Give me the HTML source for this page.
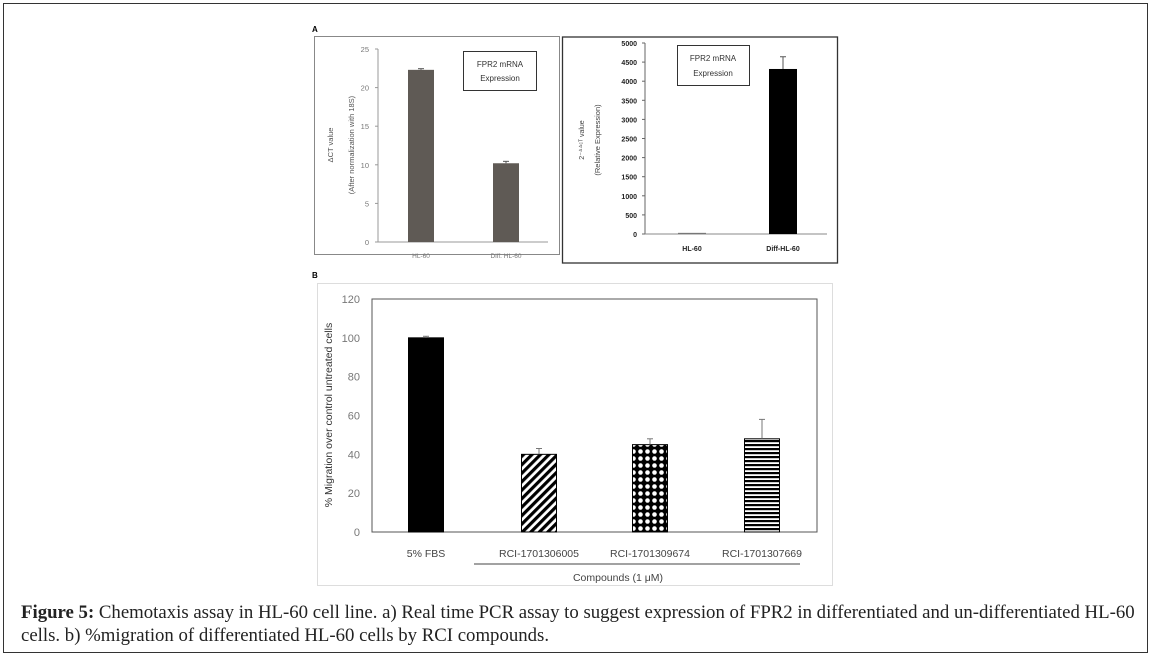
<!DOCTYPE html>
<html><head><meta charset="utf-8"><style>
html,body{margin:0;padding:0;background:#fff;}
body{width:1154px;height:662px;position:relative;overflow:hidden;font-family:"Liberation Sans",sans-serif;}
#frame{position:absolute;left:3px;top:3px;width:1145px;height:650px;border:1px solid #333;box-sizing:border-box;}
#cap{position:absolute;left:21px;top:601px;font-family:"Liberation Serif",serif;font-size:18.8px;line-height:23px;color:#222;width:1118px;}
</style></head><body>
<div id="frame"></div>
<svg width="1154" height="600" style="position:absolute;left:0;top:0" font-family="Liberation Sans, sans-serif">
<defs>
<pattern id="diag" width="6" height="6" patternUnits="userSpaceOnUse" patternTransform="rotate(45)"><rect width="6" height="6" fill="#fff"/><rect width="3.2" height="6" fill="#000"/></pattern>
<pattern id="dots" width="7" height="7" patternUnits="userSpaceOnUse"><rect width="7" height="7" fill="#000"/><circle cx="3.5" cy="3.5" r="2.3" fill="#fff"/></pattern>
<pattern id="hstripe" width="6" height="4" patternUnits="userSpaceOnUse"><rect width="6" height="4" fill="#fff"/><rect width="6" height="2.2" fill="#000"/></pattern>
</defs>
<text x="312" y="32" font-size="8" font-weight="bold">A</text>
<rect x="314.5" y="36.5" width="245" height="218" fill="none" stroke="#888"/>
<rect x="562.5" y="37" width="275" height="226" fill="none" stroke="#333" stroke-width="1.3"/>
<text x="312" y="278" font-size="8" font-weight="bold">B</text>
<rect x="317.5" y="283.5" width="515" height="302" fill="none" stroke="#ddd"/>
<g id="c1"></g>
<g id="c2"></g>
<g id="c3"></g>
</svg>
<div id="cap"><b>Figure 5:</b> Chemotaxis assay in HL-60 cell line. a) Real time PCR assay to suggest expression of FPR2 in differentiated and un-differentiated HL-60 cells. b) %migration of differentiated HL-60 cells by RCI compounds.</div>
<script>
const NS="http://www.w3.org/2000/svg";
const c1Cats=["HL-60","Diff. HL-60"];
const c1Vals=[22.3,10.2];
const c1Errs=[0.15,0.25];
const c1Ticks=[0,5,10,15,20,25];
const c2Cats=["HL-60","Diff-HL-60"];
const c2Vals=[30,4320];
const c2Errs=[0,320];
const c2Ticks=[0,500,1000,1500,2000,2500,3000,3500,4000,4500,5000];
const c3Cats=["5% FBS","RCI-1701306005","RCI-1701309674","RCI-1701307669"];
const c3Vals=[100,40,45,48];
const c3Errs=[0.8,3,3,10];
const c3Ticks=[0,20,40,60,80,100,120];
function el(p,t,a,txt){const e=document.createElementNS(NS,t);for(const k in a)e.setAttribute(k,a[k]);if(txt!==undefined)e.textContent=txt;p.appendChild(e);return e;}
// chart 1
(function(){
 const g=document.getElementById('c1');
 const y0=242,y1=49,max=25,ax=378;
 const ys=v=>y0-(v/max)*(y0-y1);
 let e=el(g,'line',{x1:ax,y1:y1,x2:ax,y2:y0,stroke:'#999'});
 
 e=el(g,'line',{x1:ax,y1:y0,x2:548,y2:y0,stroke:'#999'});
 
 c1Ticks.forEach(t=>{e=el(g,'text',{x:369,y:ys(t)+3,'font-size':7.5,'text-anchor':'end',fill:'#777'},t);
  
  el(g,'line',{x1:ax-3,y1:ys(t),x2:ax,y2:ys(t),stroke:'#999'});});
 const cx=[421,506];
 c1Cats.forEach((c,i)=>{
  const top=ys(c1Vals[i]);
  e=el(g,'rect',{x:cx[i]-13,y:top,width:26,height:y0-top,fill:'#5f5a55'});
  
  const et=ys(c1Vals[i]+c1Errs[i]);
  el(g,'line',{x1:cx[i],y1:top,x2:cx[i],y2:et,stroke:'#555'});
  el(g,'line',{x1:cx[i]-3,y1:et,x2:cx[i]+3,y2:et,stroke:'#555'});
  e=el(g,'text',{x:cx[i],y:258,'font-size':6.5,'text-anchor':'middle',fill:'#777'},c);
  
 });
 e=el(g,'text',{transform:'translate(333,145) rotate(-90)','font-size':7.5,'text-anchor':'middle',fill:'#555'},'ΔCT value');
 
 e=el(g,'text',{transform:'translate(354,145) rotate(-90)','font-size':7.5,'text-anchor':'middle',fill:'#555'},'(After normalization with 18S)');
 
 e=el(g,'rect',{x:463.5,y:51.5,width:73,height:39,fill:'#fff',stroke:'#333'});
 
 el(g,'text',{x:500,y:67,'font-size':8,'text-anchor':'middle',fill:'#333'},'FPR2 mRNA');
 el(g,'text',{x:500,y:81,'font-size':8,'text-anchor':'middle',fill:'#333'},'Expression');
})();
// chart 2
(function(){
 const g=document.getElementById('c2');
 const y0=234,y1=43,max=5000,ax=645;
 const ys=v=>y0-(v/max)*(y0-y1);
 let e=el(g,'line',{x1:ax,y1:y1,x2:ax,y2:y0,stroke:'#666'});
 
 e=el(g,'line',{x1:ax,y1:y0,x2:827,y2:y0,stroke:'#888'});
 
 c2Ticks.forEach(t=>{e=el(g,'text',{x:637,y:ys(t)+3,'font-size':7,'font-weight':'bold','text-anchor':'end',fill:'#222'},t);
  
  el(g,'line',{x1:ax-3,y1:ys(t),x2:ax,y2:ys(t),stroke:'#666'});});
 const cx=[692,783];
 c2Cats.forEach((c,i)=>{
  const top=ys(c2Vals[i]);
  e=el(g,'rect',{x:cx[i]-14,y:top,width:28,height:Math.max(1,y0-top),fill:i?'#000':'#777'});
  
  if(c2Errs[i]>0){const et=ys(c2Vals[i]+c2Errs[i]);
   el(g,'line',{x1:cx[i],y1:top,x2:cx[i],y2:et,stroke:'#555'});
   el(g,'line',{x1:cx[i]-3,y1:et,x2:cx[i]+3,y2:et,stroke:'#555'});}
  e=el(g,'text',{x:cx[i],y:251,'font-size':7,'font-weight':'bold','text-anchor':'middle',fill:'#222'},c);
  
 });
 e=el(g,'text',{transform:'translate(584,140) rotate(-90)','font-size':7,'text-anchor':'middle',fill:'#444'},'2⁻ᐞᐞᶜᵀ value');
 
 e=el(g,'text',{transform:'translate(600,140) rotate(-90)','font-size':7.5,'text-anchor':'middle',fill:'#444'},'(Relative  Expression)');
 
 e=el(g,'rect',{x:677.5,y:45.5,width:72,height:40,fill:'#fff',stroke:'#333'});
 
 el(g,'text',{x:713,y:61,'font-size':8,'text-anchor':'middle',fill:'#333'},'FPR2 mRNA');
 el(g,'text',{x:713,y:76,'font-size':8,'text-anchor':'middle',fill:'#333'},'Expression');
})();
// chart 3
(function(){
 const g=document.getElementById('c3');
 const y0=532,y1=299,max=120,ax=372,ar=817;
 const ys=v=>y0-(v/max)*(y0-y1);
 let e=el(g,'rect',{x:ax,y:y1,width:ar-ax,height:y0-y1,fill:'none',stroke:'#555'});
 
 c3Ticks.forEach(t=>{e=el(g,'text',{x:360,y:ys(t)+4,'font-size':11,'text-anchor':'end',fill:'#777'},t);
  });
 const cx=[426,539,650,762];
 const fills=['#000','url(#diag)','url(#dots)','url(#hstripe)'];
 c3Cats.forEach((c,i)=>{
  const top=ys(c3Vals[i]);
  e=el(g,'rect',{x:cx[i]-17.5,y:top,width:35,height:y0-top,fill:fills[i],stroke:'#000','stroke-width':1});
  
  const et=ys(c3Vals[i]+c3Errs[i]);
  el(g,'line',{x1:cx[i],y1:top,x2:cx[i],y2:et,stroke:'#777'});
  el(g,'line',{x1:cx[i]-3,y1:et,x2:cx[i]+3,y2:et,stroke:'#777'});
  e=el(g,'text',{x:cx[i],y:557,'font-size':10.5,'text-anchor':'middle',fill:'#444'},c);
  
 });
 e=el(g,'text',{transform:'translate(332,415) rotate(-90)','font-size':10.5,'text-anchor':'middle',fill:'#333'},'% Migration over control untreated cells');
 
 e=el(g,'line',{x1:474,y1:564,x2:800,y2:564,stroke:'#444'});
 
 e=el(g,'text',{x:618,y:581,'font-size':10.5,'text-anchor':'middle',fill:'#444'},'Compounds (1 μM)');
 
})();
</script>
</body></html>
